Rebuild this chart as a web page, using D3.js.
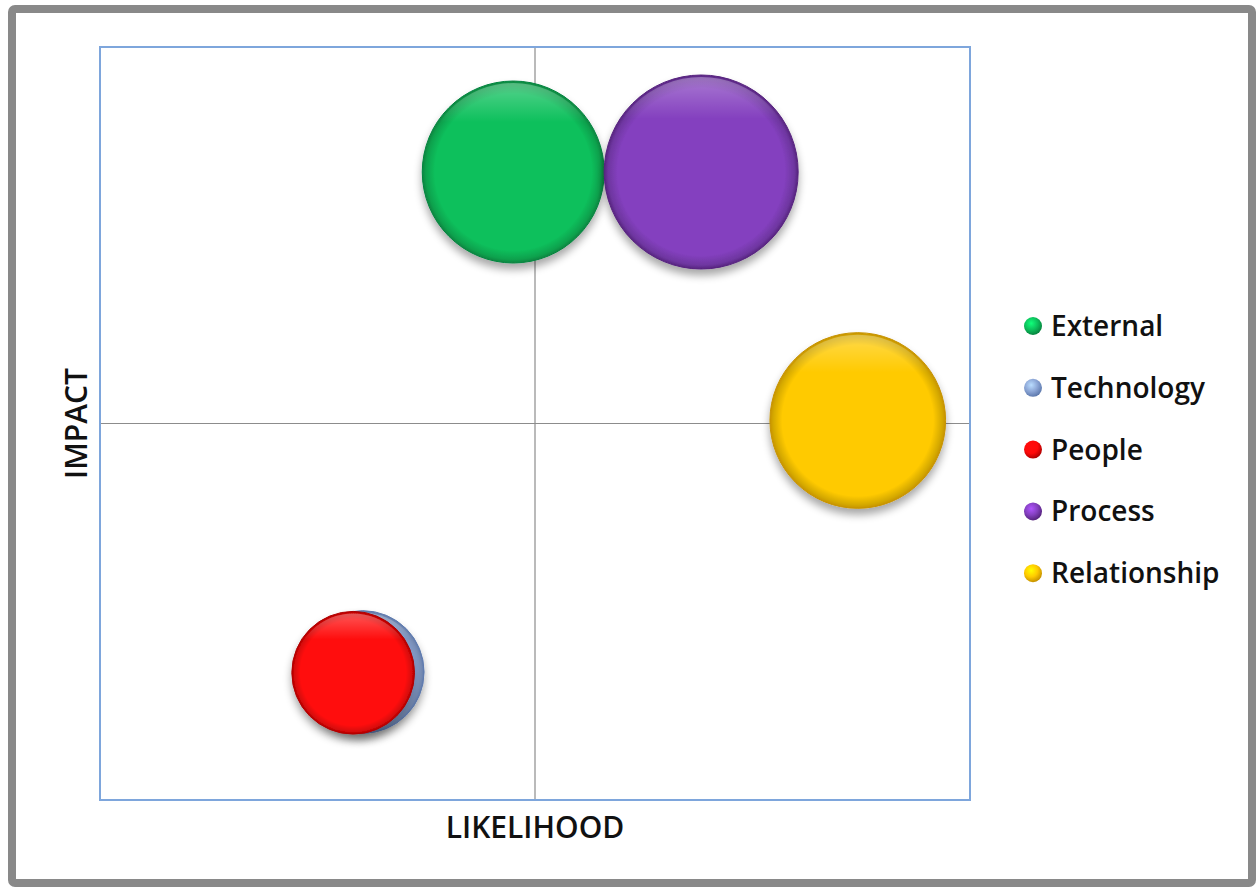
<!DOCTYPE html>
<html>
<head>
<meta charset="utf-8">
<script src="https://cdn.jsdelivr.net/npm/d3@7"></script>
<style>
  html, body { margin: 0; padding: 0; background: #fff; }
  svg { display: block; }
</style>
</head>
<body>
<svg id="chart" width="1257" height="888"></svg>
<script>
// ---- data ----
const seriesNames = ["External", "Technology", "People", "Process", "Relationship"];
const likelihood  = [4.75, 3.02, 2.91, 6.91, 8.71];
const impact      = [8.34, 1.70, 1.69, 8.34, 5.04];
const bubbleSize  = [8.8, 4.0, 4.0, 10.0, 8.2];
const seriesColors = ["#0CC05C", "#8CA6D6", "#FF0A0A", "#8440BF", "#FFCA00"];
const edgeColors   = ["#07843F", "#5E7AAE", "#B00000", "#57247F", "#C79300"];
const xDomain = [0, 10];
const yDomain = [0, 10];
const xAxisTitle = "LIKELIHOOD";
const yAxisTitle = "IMPACT";

const svg = d3.select("#chart");
const W = 1257, H = 888;
const plot = { left: 100, top: 47, right: 970, bottom: 800 };

const x = d3.scaleLinear().domain(xDomain).range([plot.left, plot.right]);
const y = d3.scaleLinear().domain(yDomain).range([plot.bottom, plot.top]);
const r = d3.scaleSqrt().domain([0, d3.max(bubbleSize)]).range([0, 97]);

const data = seriesNames.map((n, i) => ({
  name: n, x: likelihood[i], y: impact[i], s: bubbleSize[i],
  color: seriesColors[i], edge: edgeColors[i], i
}));

const defs = svg.append("defs");
const shadow = defs.append("filter").attr("id", "shadow")
  .attr("x", "-30%").attr("y", "-30%").attr("width", "160%").attr("height", "170%");
shadow.append("feGaussianBlur").attr("in", "SourceAlpha").attr("stdDeviation", 4).attr("result", "b");
shadow.append("feOffset").attr("in", "b").attr("dx", 0).attr("dy", 6).attr("result", "o");
shadow.append("feComponentTransfer").attr("in", "o").attr("result", "oc")
  .append("feFuncA").attr("type", "linear").attr("slope", 0.35);
const merge = shadow.append("feMerge");
merge.append("feMergeNode").attr("in", "oc");
merge.append("feMergeNode").attr("in", "SourceGraphic");

data.forEach(d => {
  const g = defs.append("radialGradient").attr("id", "bub" + d.i)
    .attr("cx", "50%").attr("cy", "50%").attr("r", "50%");
  g.append("stop").attr("offset", "0%").attr("stop-color", d.color);
  g.append("stop").attr("offset", "86%").attr("stop-color", d.color);
  g.append("stop").attr("offset", "96%").attr("stop-color", d3.color(d.color).darker(0.5));
  g.append("stop").attr("offset", "100%").attr("stop-color", d.edge);
  // top highlight rim
  const h = defs.append("linearGradient").attr("id", "rim" + d.i)
    .attr("x1", 0).attr("y1", 0).attr("x2", 0).attr("y2", 1);
  h.append("stop").attr("offset", "0%").attr("stop-color", "#fff").attr("stop-opacity", 0.3);
  h.append("stop").attr("offset", "22%").attr("stop-color", "#fff").attr("stop-opacity", 0);
  h.append("stop").attr("offset", "100%").attr("stop-color", "#fff").attr("stop-opacity", 0);
  // legend sphere
  const s = defs.append("radialGradient").attr("id", "sph" + d.i)
    .attr("cx", "40%").attr("cy", "35%").attr("r", "65%");
  s.append("stop").attr("offset", "0%").attr("stop-color", d3.color(d.color).brighter(0.8));
  s.append("stop").attr("offset", "55%").attr("stop-color", d.color);
  s.append("stop").attr("offset", "100%").attr("stop-color", d.edge);
});

// outer frame
svg.append("rect").attr("x", 12).attr("y", 9).attr("width", W - 12 - 5).attr("height", H - 9 - 5)
  .attr("rx", 3).attr("fill", "#fff").attr("stroke", "#898989").attr("stroke-width", 8);

// plot area
svg.append("rect").attr("x", plot.left).attr("y", plot.top)
  .attr("width", plot.right - plot.left).attr("height", plot.bottom - plot.top)
  .attr("fill", "#fff");

// quadrant lines
svg.append("line").attr("x1", x(5)).attr("x2", x(5)).attr("y1", plot.top).attr("y2", plot.bottom)
  .attr("stroke", "#8c8c8c").attr("stroke-width", 1.2);
svg.append("line").attr("x1", plot.left).attr("x2", plot.right).attr("y1", y(5)).attr("y2", y(5))
  .attr("stroke", "#8c8c8c").attr("stroke-width", 1.2);

// plot border
svg.append("rect").attr("x", plot.left).attr("y", plot.top)
  .attr("width", plot.right - plot.left).attr("height", plot.bottom - plot.top)
  .attr("fill", "none").attr("stroke", "#7EA6DC").attr("stroke-width", 2);

// bubbles (draw in series order, technology under people)
const bub = svg.append("g").selectAll("g").data(data).join("g")
  .attr("transform", d => `translate(${x(d.x)},${y(d.y)})`);
bub.append("circle").attr("r", d => r(d.s)).attr("fill", d => `url(#bub${d.i})`)
  .attr("stroke", d => d.edge).attr("stroke-width", 1).attr("filter", "url(#shadow)");
bub.append("circle").attr("r", d => r(d.s) - 2).attr("fill", d => `url(#rim${d.i})`);

// axis titles
svg.append("text").attr("x", x(5)).attr("y", 838).attr("text-anchor", "middle")
  .attr("font-family", "Open Sans, sans-serif").attr("font-weight", 600).attr("font-size", 30)
  .attr("fill", "#111").text(xAxisTitle);
svg.append("text").attr("transform", `translate(87,${y(5)}) rotate(-90)`).attr("text-anchor", "middle")
  .attr("font-family", "Open Sans, sans-serif").attr("font-weight", 600).attr("font-size", 30)
  .attr("fill", "#111").text(yAxisTitle);

// legend
const leg = svg.append("g").selectAll("g").data(data).join("g")
  .attr("transform", (d, i) => `translate(1033,${326 + i * 61.8})`);
leg.append("circle").attr("r", 9).attr("fill", d => `url(#sph${d.i})`);
leg.append("text").attr("x", 18).attr("y", 10).attr("font-family", "Open Sans, sans-serif")
  .attr("font-weight", 600).attr("font-size", 28).attr("fill", "#111").text(d => d.name);
</script>
</body>
</html>
